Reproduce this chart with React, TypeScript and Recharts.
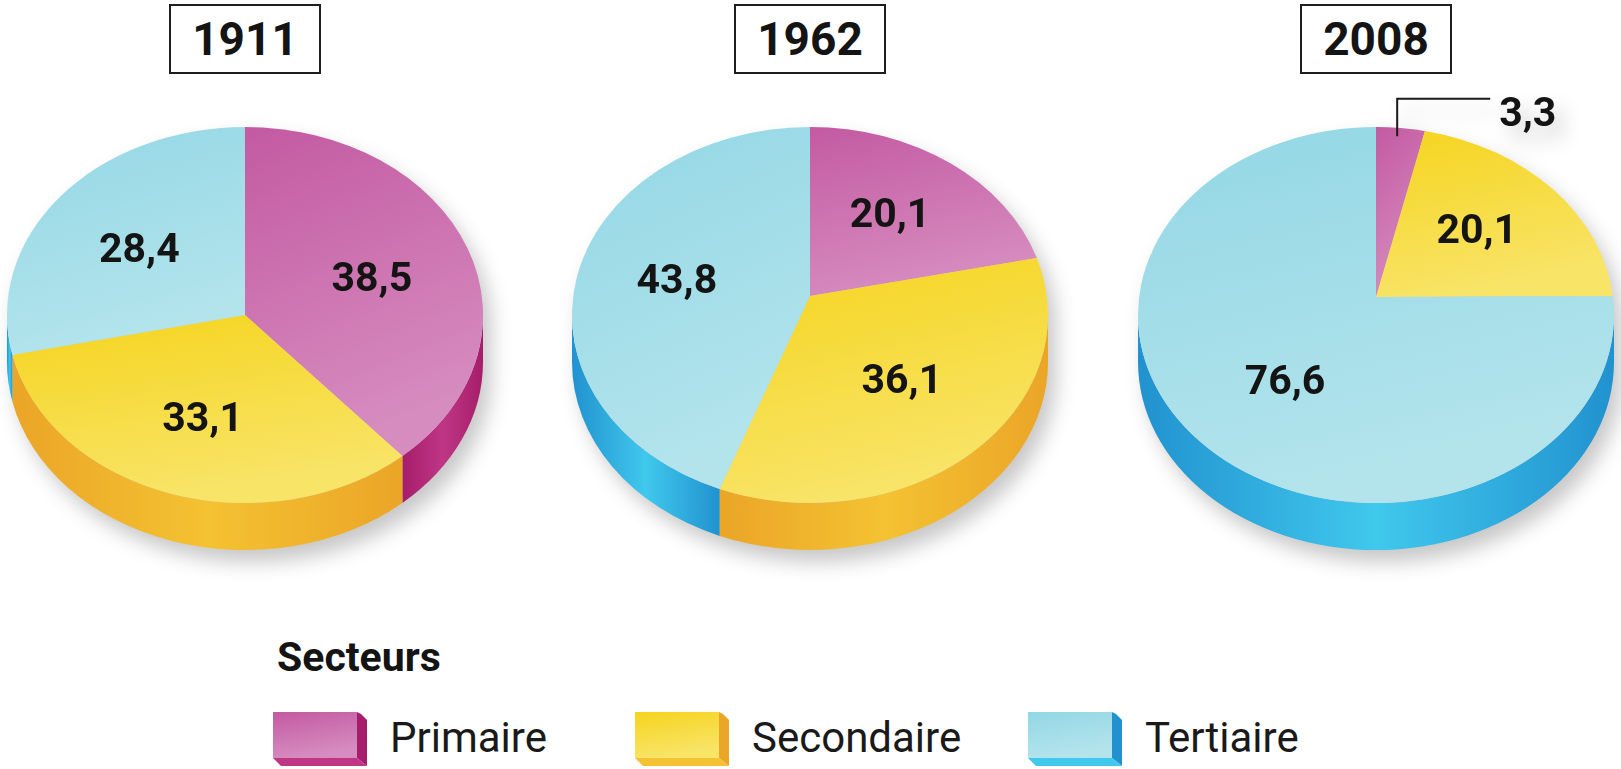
import React from 'react';
import { PieChart, Pie, Cell } from 'recharts';

const categories = ['Primaire', 'Secondaire', 'Tertiaire'];
const years = ['1911', '1962', '2008'];
const values1911 = [38.5, 33.1, 28.4];
const values1962 = [20.1, 36.1, 43.8];
const values2008 = [3.3, 20.1, 76.6];
const legendTitle = 'Secteurs';

const W = 1621;
const H = 769;
const RX = 238;
const TILT = 0.79; // ry / rx of the tilted disc
const DEPTH = 47;
const CY = 315;
const CENTERS = [245, 810, 1376];
const VERTEX_LIFT = [0, 19, 18]; // perspective: the apex sits a bit above the rim centre
const LABEL_R = 0.57;
const RAD = Math.PI / 180;
const FONT = 'Roboto, "Liberation Sans", sans-serif';

const TOP_FROM = ['#c35aa2', '#f5d41e', '#93d7e5'];
const TOP_TO = ['#d68cbf', '#f8e467', '#b3e4ec'];
const SIDE_END = ['#a51d6b', '#eba527', '#2192cf'];
const SIDE_MID = ['#c03686', '#f4c232', '#40c8ed'];
const LEGEND_X = [273, 635, 1028];

const pies = [values1911, values1962, values2008].map((vals) =>
  categories.map((name, i) => ({ name, value: vals[i] }))
);

const pieIndex = (cx: number) => {
  let best = 0;
  CENTERS.forEach((c, i) => {
    if (Math.abs(c - cx) < Math.abs(CENTERS[best] - cx)) best = i;
  });
  return best;
};

const ellPoint = (cx: number, cy: number, rx: number, ry: number, a: number, dy = 0) =>
  `${cx + rx * Math.cos(a * RAD)},${cy - ry * Math.sin(a * RAD) + dy}`;

const Slice3D = (props: any) => {
  const { cx, cy, outerRadius, startAngle, endAngle, name, payload } = props;
  const k = categories.indexOf(name ?? payload?.name);
  const lift = VERTEX_LIFT[pieIndex(cx)];
  const rx = outerRadius;
  const ry = outerRadius * TILT;
  const hi = Math.max(startAngle, endAngle);
  const lo = Math.min(startAngle, endAngle);
  const p = (a: number, dy = 0) => ellPoint(cx, cy, rx, ry, a, dy);
  const top = `M${cx},${cy - lift} L${p(hi)} A${rx},${ry} 0 ${hi - lo > 180 ? 1 : 0} 1 ${p(lo)} Z`;
  // only the front half of the rim is visible
  const sides: string[] = [];
  [[-180, 0], [180, 360], [-540, -360]].forEach(([a, b]) => {
    const h = Math.min(hi, b);
    const l = Math.max(lo, a);
    if (h > l) {
      sides.push(`M${p(h)} A${rx},${ry} 0 0 1 ${p(l)} L${p(l, DEPTH)} A${rx},${ry} 0 0 0 ${p(h, DEPTH)} Z`);
    }
  });
  return (
    <g>
      {sides.map((d, i) => (
        <path key={i} d={d} fill={`url(#side${k})`} />
      ))}
      <path d={top} fill={`url(#top${k})`} />
    </g>
  );
};

const renderLabel = (props: any) => {
  const { cx, cy, midAngle, outerRadius, value, percent } = props;
  const lift = VERTEX_LIFT[pieIndex(cx)];
  const rx = outerRadius;
  const ry = outerRadius * TILT;
  const c = Math.cos(midAngle * RAD);
  const s = Math.sin(midAngle * RAD);
  const txt = Number(value).toFixed(1).replace('.', ',');
  const style = { fontFamily: FONT, fontWeight: 700, fontSize: 41, fill: '#141414' };
  if (percent < 0.05) {
    const x0 = cx + 0.86 * rx * c;
    const y0 = cy - lift - 0.86 * ry * s;
    const yl = cy - ry * 1.15;
    return (
      <g>
        <polyline points={`${x0},${y0} ${x0},${yl} ${x0 + 93},${yl}`} fill="none" stroke="#1a1a1a" strokeWidth={2} />
        <text x={x0 + 102} y={yl + 27} style={style}>
          {txt}
        </text>
      </g>
    );
  }
  return (
    <text
      x={cx + LABEL_R * rx * c}
      y={cy - lift * 0.8 - LABEL_R * ry * s}
      textAnchor="middle"
      dominantBaseline="central"
      style={style}
    >
      {txt}
    </text>
  );
};

const Swatch = ({ k }: { k: number }) => (
  <svg width={94} height={54} style={{ display: 'block' }}>
    <rect x={0} y={0} width={84} height={46} fill={`url(#top${k})`} />
    <polygon points="84,0 88,2 94,8 94,54 84,46" fill={SIDE_END[k]} />
    <polygon points="0,46 84,46 94,54 8,54" fill={SIDE_MID[k]} />
  </svg>
);

export default function App() {
  return (
    <div
      style={{
        position: 'absolute',
        left: 0,
        top: 0,
        width: W,
        height: H,
        background: '#fff',
        overflow: 'hidden',
        fontFamily: FONT,
      }}
    >
      <svg width={0} height={0} style={{ position: 'absolute' }}>
        <defs>
          {categories.map((c, k) => (
            <linearGradient key={`t${c}`} id={`top${k}`} x1="0" y1="0" x2="0.3" y2="1">
              <stop offset="0%" stopColor={TOP_FROM[k]} />
              <stop offset="100%" stopColor={TOP_TO[k]} />
            </linearGradient>
          ))}
          {categories.map((c, k) => (
            <linearGradient key={`s${c}`} id={`side${k}`} x1="0" y1="0" x2="1" y2="0">
              <stop offset="0%" stopColor={SIDE_END[k]} />
              <stop offset="50%" stopColor={SIDE_MID[k]} />
              <stop offset="100%" stopColor={SIDE_END[k]} />
            </linearGradient>
          ))}
        </defs>
      </svg>

      <div
        style={{
          position: 'absolute',
          left: 0,
          top: 0,
          filter: 'drop-shadow(8px 12px 10px rgba(0,0,0,0.22))',
        }}
      >
        <PieChart width={W} height={H} margin={{ top: 0, right: 0, bottom: 0, left: 0 }}>
          {pies.map((data, i) => (
            <Pie
              key={years[i]}
              data={data}
              dataKey="value"
              nameKey="name"
              cx={CENTERS[i]}
              cy={CY}
              outerRadius={RX}
              startAngle={90}
              endAngle={-270}
              stroke="none"
              isAnimationActive={false}
              shape={Slice3D}
              activeShape={Slice3D}
              inactiveShape={Slice3D}
              label={renderLabel}
              labelLine={false}
            >
              {data.map((d, k) => (
                <Cell key={d.name} fill={TOP_FROM[k]} />
              ))}
            </Pie>
          ))}
        </PieChart>
      </div>

      {years.map((y, i) => (
        <div
          key={y}
          style={{
            position: 'absolute',
            left: CENTERS[i] - 76,
            top: 4,
            width: 148,
            height: 66,
            border: '2px solid #1e1e1e',
            background: '#fff',
            display: 'flex',
            alignItems: 'center',
            justifyContent: 'center',
            fontWeight: 700,
            fontSize: 46,
            color: '#141414',
          }}
        >
          {y}
        </div>
      ))}

      <div
        style={{
          position: 'absolute',
          left: 277,
          top: 637,
          fontSize: 41,
          lineHeight: '41px',
          fontWeight: 700,
          color: '#141414',
        }}
      >
        {legendTitle}
      </div>

      {categories.map((c, k) => (
        <div
          key={c}
          style={{
            position: 'absolute',
            left: LEGEND_X[k],
            top: 712,
            display: 'flex',
            alignItems: 'flex-start',
          }}
        >
          <Swatch k={k} />
          <div
            style={{
              marginLeft: 23,
              marginTop: 5,
              fontSize: 42,
              lineHeight: '42px',
              fontWeight: 400,
              color: '#1a1a1a',
            }}
          >
            {c}
          </div>
        </div>
      ))}
    </div>
  );
}
